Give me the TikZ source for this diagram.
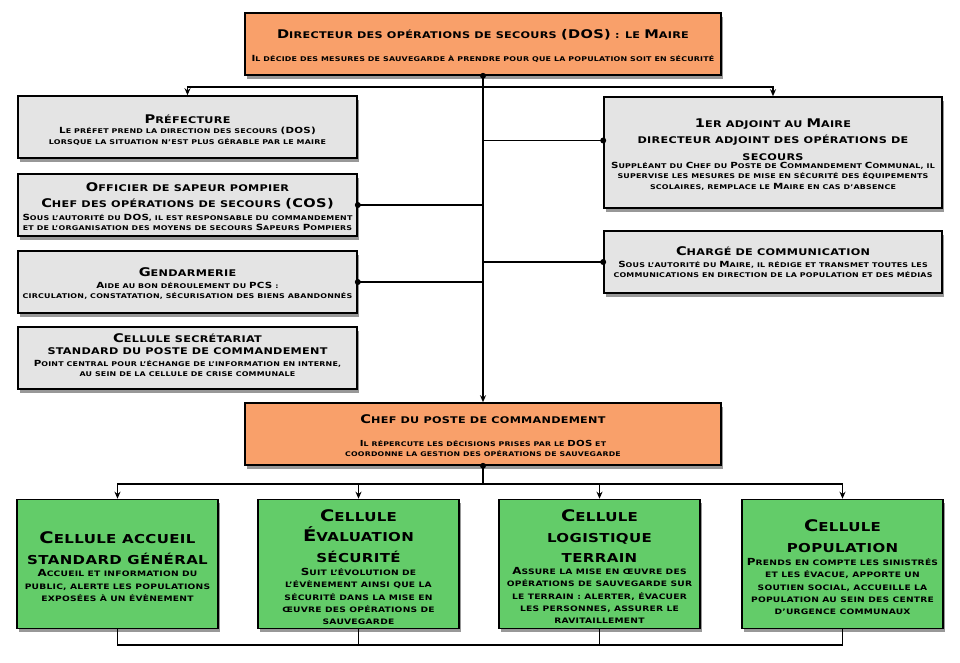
\documentclass[tikz,border=0pt]{standalone}
\usepackage{fontspec}
\setmainfont{DejaVu Sans}[FakeStretch=1.22,LetterSpace=3]
\usetikzlibrary{arrows.meta,shadows,calc}
\definecolor{orng}{RGB}{249,160,106}
\definecolor{gbox}{RGB}{228,228,228}
\definecolor{grn}{RGB}{99,204,105}
\newcommand\B[1]{\scalebox{1.3}{#1}}
\newcommand\fs[2]{\fontsize{#1}{#2}\selectfont\bfseries}
\tikzset{
  box/.style={draw=black, line width=1.6pt, rectangle, inner sep=0pt,
    drop shadow={shadow xshift=1.5pt, shadow yshift=-3.5pt, opacity=0.5, fill=black!80}},
  obox/.style={box, fill=orng, minimum width=476pt, minimum height=62pt},
  gybox/.style={box, fill=gbox, minimum width=339pt, minimum height=62pt},
  gnbox/.style={box, fill=grn, minimum width=201pt, minimum height=129pt},
  txt/.style={align=center, inner sep=0pt, text=black},
  ttop/.style={txt, font=\fs{9.2}{16}},
  tsub/.style={txt, font=\fs{6.5}{10.5}},
  tgt/.style={txt, font=\fs{9.2}{16.5}},
  tgtc/.style={txt, font=\fs{9.2}{12.5}},
  tgd/.style={txt, font=\fs{6.5}{10.5}},
  tcd/.style={txt, font=\fs{6.4}{10}},
  tnt/.style={txt, font=\fs{12.3}{20.5}},
  tnd/.style={txt, font=\fs{7.5}{12.3}},
  conn/.style={line width=1.3pt, draw=black},
  arr/.style={conn, -{Stealth[length=7pt,width=6pt]}},
}
\begin{document}
\begin{tikzpicture}[x=1pt,y=-1pt]
\fill[white] (0,0) rectangle (960,662);
\useasboundingbox (0,0) rectangle (960,662);

% boxes
\node[obox] (top) at (483,44) {};
\node[gybox] (pref) at (187.5,127) {};
\node[gybox] (off) at (187.5,205) {};
\node[gybox] (gend) at (187.5,282) {};
\node[gybox] (secr) at (187.5,358) {};
\node[gybox, minimum width=338pt, minimum height=111pt] (adj) at (773,152.5) {};
\node[gybox, minimum width=338pt] (charge) at (773,262) {};
\node[obox] (chef) at (483,434) {};
\node[gnbox] (g1) at (117.5,564) {};
\node[gnbox] (g2) at (358.5,564) {};
\node[gnbox] (g3) at (599.5,564) {};
\node[gnbox] (g4) at (842.5,564) {};

% texts
\node[ttop] (topt) at (483,35) {\B{D}IRECTEUR DES OPÉRATIONS DE SECOURS \B{(DOS)} : LE \B{M}AIRE};
\node[tsub] (tops) at (483,58.5) {\B{I}L DÉCIDE DES MESURES DE SAUVEGARDE À PRENDRE POUR QUE LA POPULATION SOIT EN SÉCURITÉ};

\node[tgt] (preft) at (187.5,119) {\B{P}RÉFECTURE};
\node[tgd] (prefd) at (187.5,136.5) {\B{L}E PRÉFET PREND LA DIRECTION DES SECOURS \B{(DOS)}\\LORSQUE LA SITUATION N’EST PLUS GÉRABLE PAR LE MAIRE};

\node[tgt] (offt) at (187.5,196) {\B{O}FFICIER DE SAPEUR POMPIER\\\B{C}HEF DES OPÉRATIONS DE SECOURS \B{(COS)}};
\node[tgd] (offd) at (187.5,222.5) {\B{S}OUS L’AUTORITÉ DU \B{DOS}, IL EST RESPONSABLE DU COMMANDEMENT\\ET DE L’ORGANISATION DES MOYENS DE SECOURS \B{S}APEURS \B{P}OMPIERS};

\node[tgt] (gendt) at (187.5,272.5) {\B{G}ENDARMERIE};
\node[tgd] (gendd) at (187.5,291) {\B{A}IDE AU BON DÉROULEMENT DU \B{PCS} :\\CIRCULATION, CONSTATATION, SÉCURISATION DES BIENS ABANDONNÉS};

\node[tgtc] (secrt) at (187.5,344) {\B{C}ELLULE SECRÉTARIAT\\STANDARD DU POSTE DE COMMANDEMENT};
\node[tgd] (secrd) at (187.5,368.5) {\B{P}OINT CENTRAL POUR L’ÉCHANGE DE L’INFORMATION EN INTERNE,\\AU SEIN DE LA CELLULE DE CRISE COMMUNALE};

\node[tgt] (adjt) at (773,139.5) {\B{1}ER ADJOINT AU \B{M}AIRE\\DIRECTEUR ADJOINT DES OPÉRATIONS DE\\SECOURS};
\node[tgd] (adjd) at (773,176) {\B{S}UPPLÉANT DU \B{C}HEF DU \B{P}OSTE DE \B{C}OMMANDEMENT \B{C}OMMUNAL, IL\\SUPERVISE LES MESURES DE MISE EN SÉCURITÉ DES ÉQUIPEMENTS\\SCOLAIRES, REMPLACE LE \B{M}AIRE EN CAS D’ABSENCE};

\node[tgt] (charget) at (773,251.5) {\B{C}HARGÉ DE COMMUNICATION};
\node[tgd] (charged) at (773,269.5) {\B{S}OUS L’AUTORITÉ DU \B{M}AIRE, IL RÉDIGE ET TRANSMET TOUTES LES\\COMMUNICATIONS EN DIRECTION DE LA POPULATION ET DES MÉDIAS};

\node[ttop] (chft) at (483,419) {\B{C}HEF DU POSTE DE COMMANDEMENT};
\node[tcd] (chfd) at (483,448) {\B{I}L RÉPERCUTE LES DÉCISIONS PRISES PAR LE \B{DOS} ET\\COORDONNE LA GESTION DES OPÉRATIONS DE SAUVEGARDE};

\node[tnt] (g1t) at (117.5,548) {\B{C}ELLULE ACCUEIL\\STANDARD GÉNÉRAL};
\node[tnd] (g1d) at (117.5,585.5) {\B{A}CCUEIL ET INFORMATION DU\\PUBLIC, ALERTE LES POPULATIONS\\EXPOSÉES À UN ÉVÈNEMENT};

\node[tnt] (g2t) at (358.5,536) {\B{C}ELLULE\\\B{É}VALUATION\\SÉCURITÉ};
\node[tnd] (g2d) at (358.5,596.5) {\B{S}UIT L’ÉVOLUTION DE\\L’ÉVÈNEMENT AINSI QUE LA\\SÉCURITÉ DANS LA MISE EN\\ŒUVRE DES OPÉRATIONS DE\\SAUVEGARDE};

\node[tnt] (g3t) at (599.5,536.5) {\B{C}ELLULE\\LOGISTIQUE\\TERRAIN};
\node[tnd] (g3d) at (599.5,595.5) {\B{A}SSURE LA MISE EN ŒUVRE DES\\OPÉRATIONS DE SAUVEGARDE SUR\\LE TERRAIN : ALERTER, ÉVACUER\\LES PERSONNES, ASSURER LE\\RAVITAILLEMENT};

\node[tnt] (g4t) at (842.5,536) {\B{C}ELLULE\\POPULATION};
\node[tnd] (g4d) at (842.5,586.5) {\B{P}RENDS EN COMPTE LES SINISTRÉS\\ET LES ÉVACUE, APPORTE UN\\SOUTIEN SOCIAL, ACCUEILLE LA\\POPULATION AU SEIN DES CENTRE\\D’URGENCE COMMUNAUX};

% connectors
\coordinate (j1) at (483,87);
\coordinate (j2) at (483,484);
\coordinate (j3) at (483,645);
\coordinate (adjp) at ($(adj.west)+(0,-12)$);

\draw[arr] (top.south) -- (chef.north);
\draw[arr] (j1) -| (pref.north);
\draw[arr] (j1) -| (adj.north);
\draw[conn] (off.east) -- (off.east -| j1);
\draw[conn] (gend.east) -- (gend.east -| j1);
\draw[conn] (adjp) -- (adjp -| j1);
\draw[conn] (charge.west) -- (charge.west -| j1);

\draw[conn] (chef.south) -- (j2);
\draw[arr] (j2) -| (g1.north);
\draw[arr] (j2) -| (g2.north);
\draw[arr] (j2) -| (g3.north);
\draw[arr] (j2) -| (g4.north);

\draw[conn] (g1.south) |- (j3) -| (g4.south);
\draw[conn] (g2.south) -- (g2.south |- j3);
\draw[conn] (g3.south) -- (g3.south |- j3);

\foreach \p in {top.south, off.east, gend.east, adjp, charge.west, chef.south}
  \fill[black] (\p) circle (3pt);
\end{tikzpicture}
\end{document}
